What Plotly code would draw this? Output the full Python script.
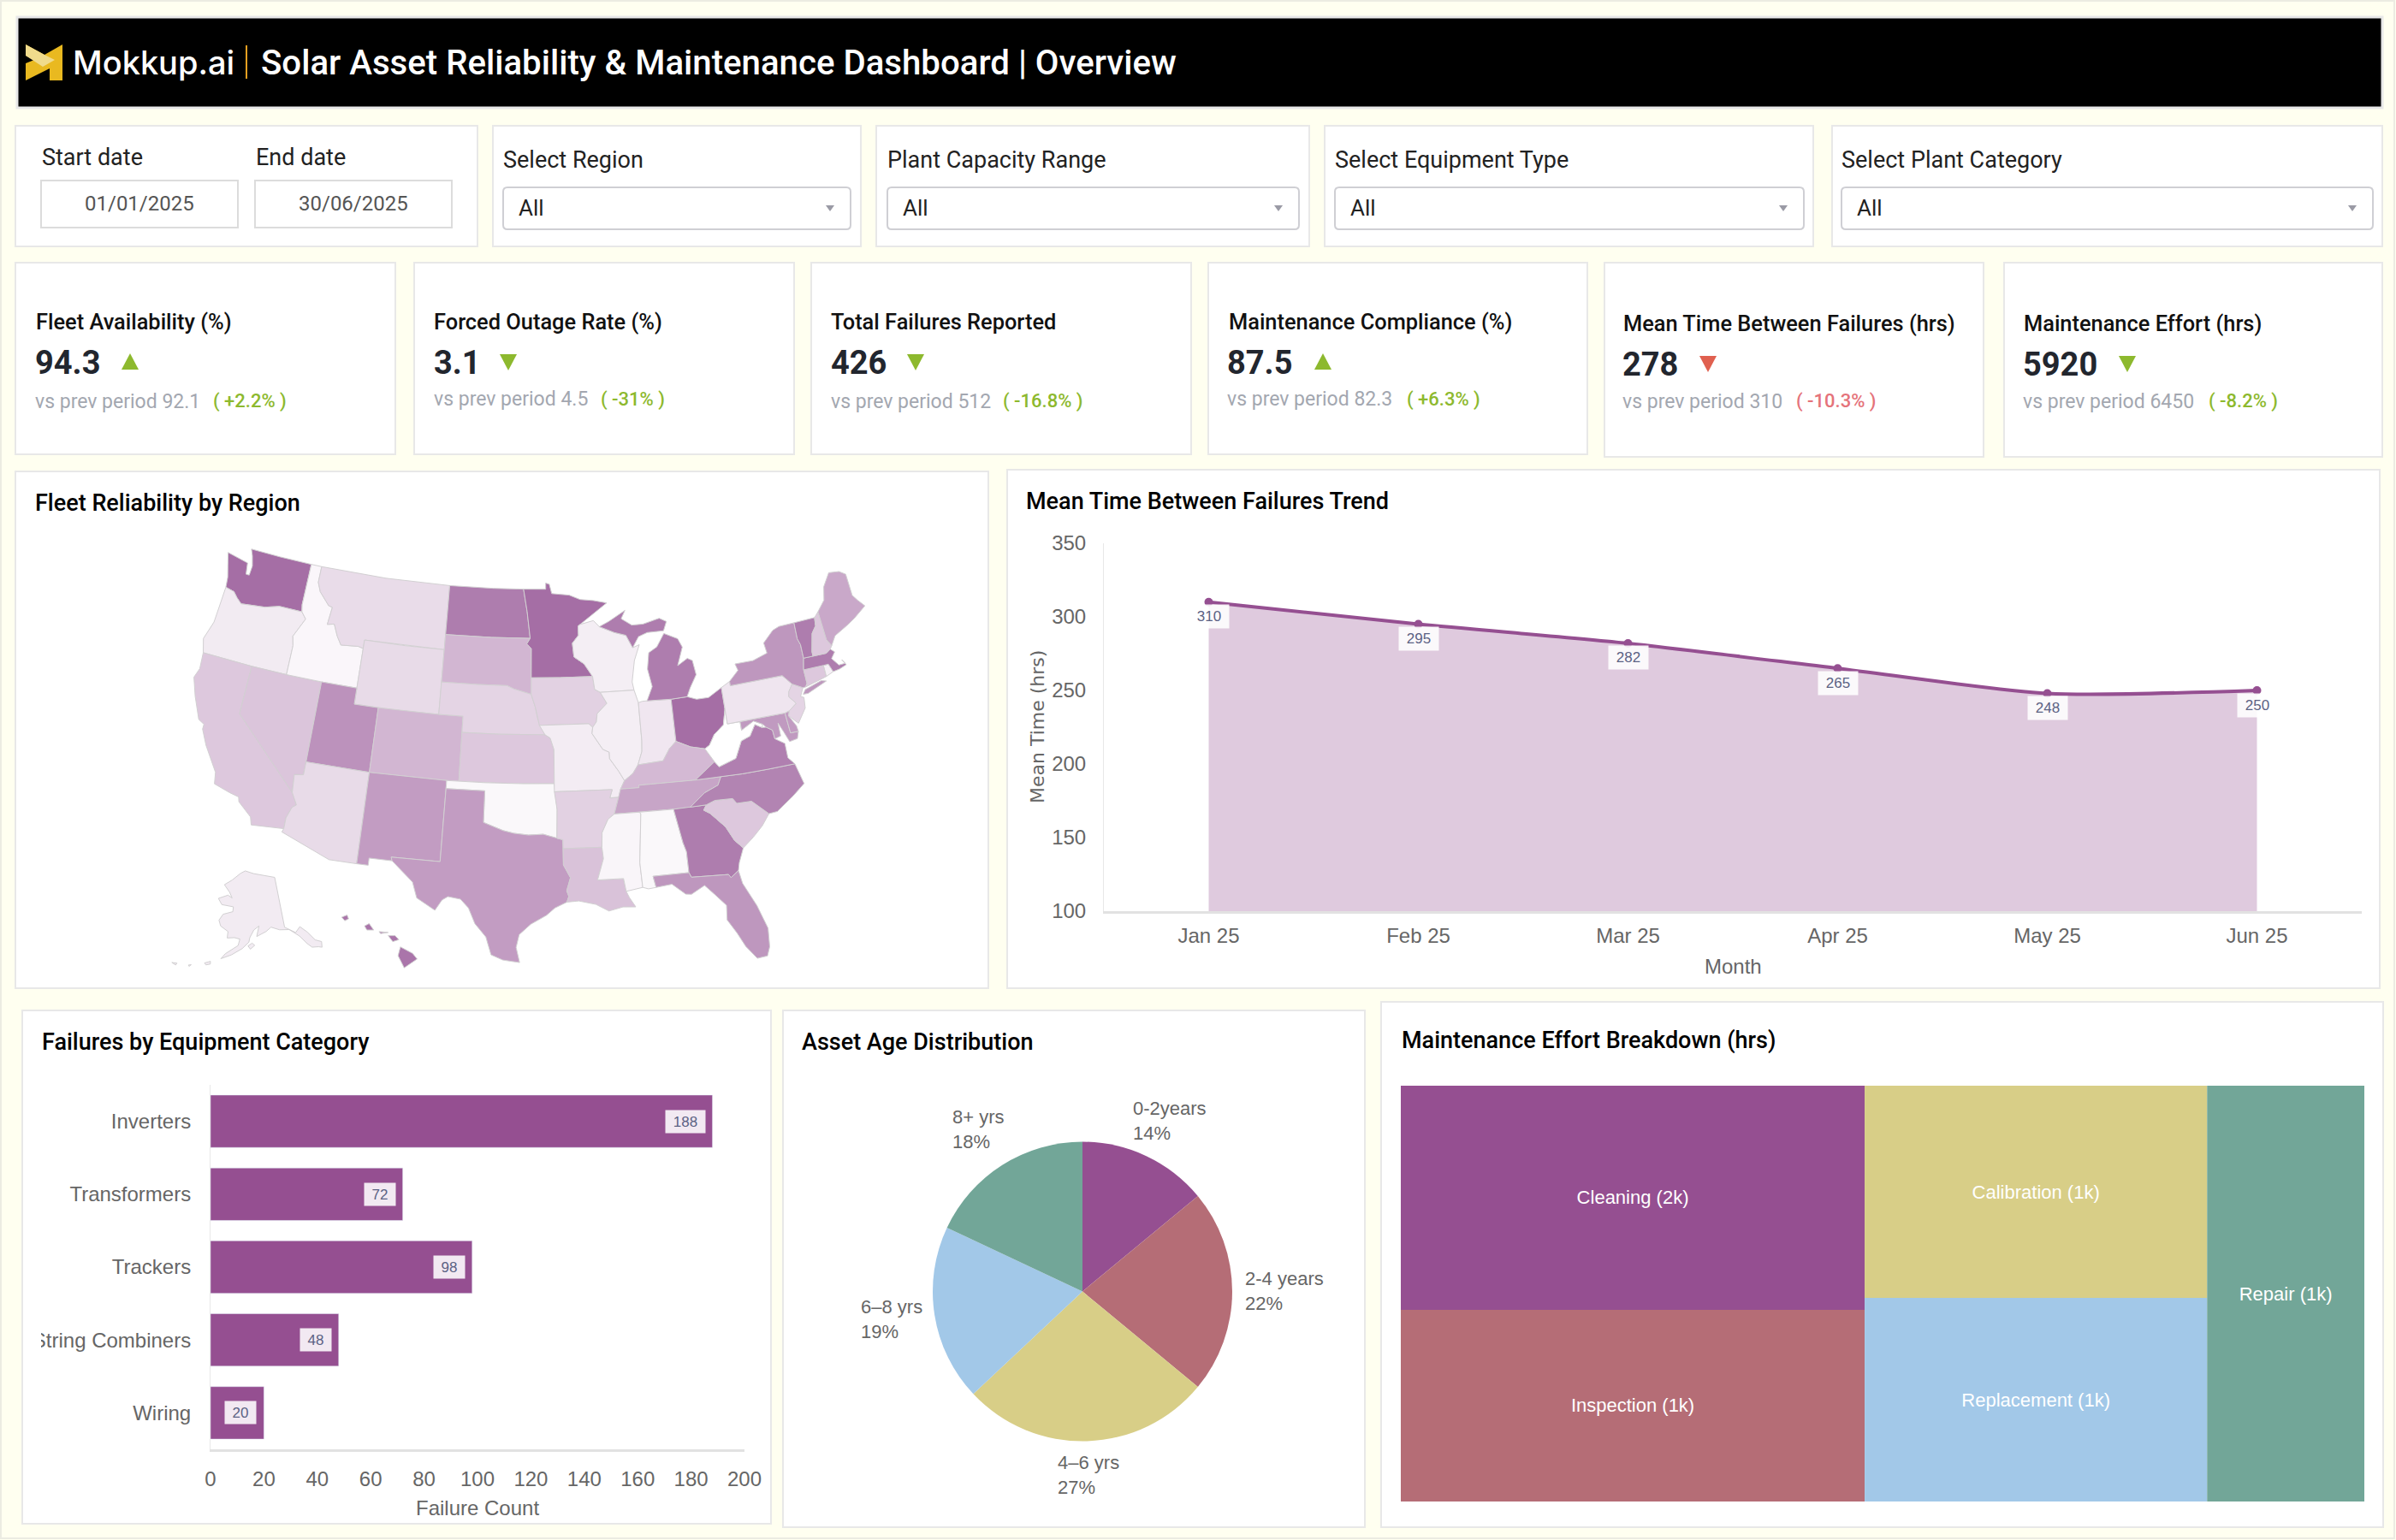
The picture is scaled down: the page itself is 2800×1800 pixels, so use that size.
import plotly.graph_objects as go
from plotly.colors import sample_colorscale
from math import radians, sin, cos, sqrt

W, H = 2800, 1800

# chart data
months = ["Jan 25", "Feb 25", "Mar 25", "Apr 25", "May 25", "Jun 25"]
mtbf_hours = [310, 295, 282, 265, 248, 250]

equipment = ["Inverters", "Transformers", "Trackers", "String Combiners", "Wiring"]
failure_counts = [188, 72, 98, 48, 20]

age_bands = ["0-2years", "2-4 years", "4–6 yrs", "6–8 yrs", "8+ yrs"]
age_shares = [14, 22, 27, 19, 18]

effort_types = ["Cleaning", "Inspection", "Calibration", "Replacement", "Repair"]
effort_hours = [1536, 1314, 1074, 1030, 966]

kpi_titles = [
    "Fleet Availability (%)",
    "Forced Outage Rate (%)",
    "Total Failures Reported",
    "Maintenance Compliance (%)",
    "Mean Time Between Failures (hrs)",
    "Maintenance Effort (hrs)",
]
kpi_values = ["94.3", "3.1", "426", "87.5", "278", "5920"]
kpi_prev = ["92.1", "4.5", "512", "82.3", "310", "6450"]
kpi_deltas = ["+2.2%", "-31%", "-16.8%", "+6.3%", "-10.3%", "-8.2%"]
kpi_up = [True, False, False, True, False, False]
kpi_good = [True, True, True, True, False, True]

filter_titles = ["Select Region", "Plant Capacity Range", "Select Equipment Type", "Select Plant Category"]
filter_values = ["All", "All", "All", "All"]
start_date = "01/01/2025"
end_date = "30/06/2025"

state_codes = [
    "WA", "OR", "CA", "NV", "ID", "MT", "WY", "UT", "CO", "AZ", "NM", "ND", "SD", "NE", "KS", "OK", "TX",
    "MN", "IA", "MO", "AR", "LA", "WI", "IL", "IN", "OH", "MI", "KY", "TN", "MS", "AL", "GA", "FL", "SC",
    "NC", "VA", "WV", "MD", "DE", "PA", "NJ", "NY", "CT", "RI", "MA", "VT", "NH", "ME", "AK", "HI",
]
state_reliability = [
    100, 14, 38, 40, 6, 24, 25, 75, 50, 25, 68, 90, 50, 30, 38, 5, 68,
    100, 32, 13, 32, 42, 12, 12, 17, 100, 90, 48, 62, 7, 5, 90, 72, 38,
    85, 88, 0, 70, 68, 18, 30, 72, 38, 10, 90, 90, 38, 60, 14, 95,
]

# state outlines, lon/lat rings
state_outlines = {
    "WA": [[(-124.73, 48.38), (-123.1, 48.15), (-122.75, 48.1), (-122.6, 47.4), (-122.3, 47.4), (-122.25, 48.0), (-122.5, 48.6), (-122.76, 49.0), (-120, 49), (-117.03, 49), (-117.04, 46.42), (-116.92, 45.99), (-118.98, 46.0), (-119.3, 45.93), (-120.2, 45.73), (-121.2, 45.65), (-122.3, 45.55), (-122.8, 45.85), (-123.2, 46.15), (-124.0, 46.27), (-124.1, 46.9), (-124.4, 47.6)]],
    "OR": [[(-124.0, 46.27), (-123.2, 46.15), (-122.8, 45.85), (-122.3, 45.55), (-121.2, 45.65), (-120.2, 45.73), (-119.3, 45.93), (-118.98, 46.0), (-116.92, 45.99), (-116.46, 45.6), (-116.9, 44.9), (-117.22, 44.4), (-117.03, 43.83), (-117.03, 42.0), (-120, 42), (-122, 42), (-124.21, 42), (-124.55, 42.84), (-124.1, 44)]],
    "CA": [[(-124.21, 42), (-122, 42), (-120, 42), (-120, 39), (-114.63, 35.0), (-114.14, 34.3), (-114.43, 34.1), (-114.72, 33.4), (-114.72, 32.72), (-117.12, 32.53), (-117.3, 33.0), (-118.4, 33.75), (-118.5, 34.03), (-119.2, 34.15), (-120.5, 34.45), (-120.65, 35.15), (-121.9, 36.6), (-122.5, 37.5), (-122.5, 37.8), (-123.0, 38.0), (-123.8, 39.3), (-124.35, 40.4), (-124.1, 41.0)]],
    "NV": [[(-120, 42), (-117.03, 42), (-114.04, 42), (-114.04, 37), (-114.05, 36.2), (-114.74, 36.1), (-114.63, 35.0), (-120, 39)]],
    "ID": [[(-117.03, 49), (-116.05, 49), (-116.05, 48), (-115.7, 47.45), (-114.7, 46.7), (-114.35, 46.65), (-114.5, 45.55), (-113.9, 45.65), (-113.45, 44.95), (-113.0, 44.45), (-111.5, 44.55), (-111.05, 44.47), (-111.05, 42), (-114.04, 42), (-117.03, 42), (-117.03, 43.83), (-117.22, 44.4), (-116.9, 44.9), (-116.46, 45.6), (-116.92, 45.99), (-117.04, 46.42)]],
    "MT": [[(-116.05, 49), (-110, 49), (-104.05, 49), (-104.05, 45), (-111.05, 45), (-111.05, 44.47), (-111.5, 44.55), (-113, 44.45), (-113.45, 44.95), (-113.9, 45.65), (-114.5, 45.55), (-114.35, 46.65), (-114.7, 46.7), (-115.7, 47.45), (-116.05, 48)]],
    "WY": [[(-111.05, 45), (-107.5, 45), (-104.05, 45), (-104.05, 41), (-107.5, 41), (-111.05, 41), (-111.05, 42), (-111.05, 44.47)]],
    "UT": [[(-114.04, 42), (-111.05, 42), (-111.05, 41), (-109.05, 41), (-109.05, 37), (-114.04, 37)]],
    "CO": [[(-109.05, 41), (-104.05, 41), (-102.05, 41), (-102.05, 37), (-103, 37), (-109.05, 37)]],
    "AZ": [[(-114.04, 37), (-109.05, 37), (-109.05, 31.33), (-111.07, 31.33), (-114.81, 32.5), (-114.72, 32.72), (-114.72, 33.4), (-114.43, 34.1), (-114.14, 34.3), (-114.63, 35.0), (-114.74, 36.1), (-114.05, 36.2)]],
    "NM": [[(-109.05, 37), (-103, 37), (-103.04, 32), (-106.62, 32), (-106.53, 31.78), (-108.21, 31.78), (-108.21, 31.33), (-109.05, 31.33)]],
    "ND": [[(-104.05, 49), (-100, 49), (-97.2, 49), (-96.85, 47.6), (-96.56, 45.94), (-100, 45.94), (-104.05, 45.94)]],
    "SD": [[(-104.05, 45.94), (-100, 45.94), (-96.56, 45.94), (-96.85, 45.6), (-96.45, 45.3), (-96.45, 43.5), (-96.45, 42.49), (-97.9, 42.8), (-98.5, 43.0), (-101, 43), (-104.05, 43)]],
    "NE": [[(-104.05, 43), (-101, 43), (-98.5, 43), (-97.9, 42.8), (-96.45, 42.49), (-96.1, 41.7), (-95.9, 41.0), (-95.31, 40), (-99, 40), (-102.05, 40), (-102.05, 41), (-104.05, 41)]],
    "KS": [[(-102.05, 40), (-99, 40), (-95.31, 40), (-94.9, 39.8), (-94.61, 39.1), (-94.62, 37), (-98, 37), (-102.05, 37)]],
    "OK": [[(-103, 37), (-100, 37), (-97, 37), (-94.62, 37), (-94.43, 35.4), (-94.48, 33.64), (-95.5, 33.9), (-96.6, 33.85), (-97.7, 33.95), (-98.5, 34.1), (-100, 34.56), (-100, 36.5), (-103, 36.5)]],
    "TX": [[(-106.62, 32), (-103.04, 32), (-103, 36.5), (-100, 36.5), (-100, 34.56), (-98.5, 34.1), (-97.7, 33.95), (-96.6, 33.85), (-95.5, 33.9), (-94.48, 33.64), (-94.04, 33.55), (-94.04, 33.0), (-94.04, 32), (-93.55, 31.2), (-93.84, 30.4), (-93.7, 30.05), (-93.85, 29.7), (-94.7, 29.35), (-95.3, 28.9), (-96.4, 28.35), (-97.2, 27.7), (-97.4, 26.9), (-97.15, 25.96), (-97.65, 26.02), (-98.3, 26.1), (-99.1, 26.4), (-99.5, 27.5), (-100.3, 28.3), (-100.8, 29.25), (-101.4, 29.77), (-102.3, 29.88), (-102.7, 29.65), (-103.15, 28.98), (-104.5, 29.65), (-104.9, 30.6), (-106.53, 31.78)]],
    "MN": [[(-97.2, 49), (-95.15, 49), (-95.15, 49.38), (-94.82, 49.32), (-94.6, 48.72), (-93.0, 48.6), (-92.0, 48.3), (-90.8, 48.2), (-89.6, 48.0), (-90.8, 47.4), (-92.1, 46.75), (-92.29, 46.65), (-92.29, 46.08), (-92.85, 45.6), (-92.75, 44.75), (-91.9, 44.3), (-91.22, 43.5), (-94, 43.5), (-96.45, 43.5), (-96.45, 45.3), (-96.85, 45.6), (-96.56, 45.94), (-96.85, 47.6)]],
    "IA": [[(-96.45, 43.5), (-94, 43.5), (-91.22, 43.5), (-91.1, 42.7), (-90.65, 42.5), (-90.15, 41.8), (-91.0, 41.2), (-91.1, 40.7), (-91.42, 40.38), (-91.73, 40.61), (-95.77, 40.58), (-95.9, 41.0), (-96.1, 41.7), (-96.45, 42.49)]],
    "MO": [[(-95.77, 40.58), (-91.73, 40.61), (-91.42, 40.38), (-91.5, 40.0), (-90.7, 39.0), (-90.2, 38.8), (-90.2, 38.4), (-89.55, 37.6), (-89.15, 37.0), (-89.5, 36.5), (-89.7, 36.0), (-90.37, 36.0), (-90.15, 36.5), (-94.62, 36.5), (-94.62, 37), (-94.61, 39.1), (-94.9, 39.8), (-95.31, 40)]],
    "AR": [[(-94.62, 36.5), (-90.15, 36.5), (-90.37, 36.0), (-89.7, 36.0), (-90.1, 35.0), (-90.6, 34.7), (-91.1, 33.9), (-91.17, 33.0), (-94.04, 33.0), (-94.04, 33.55), (-94.48, 33.64), (-94.43, 35.4)]],
    "LA": [[(-94.04, 33.0), (-91.17, 33.0), (-91.1, 32.3), (-91.6, 31.0), (-89.73, 31.0), (-89.6, 30.2), (-89.4, 29.8), (-89.0, 29.2), (-89.9, 29.25), (-90.9, 29.05), (-91.8, 29.5), (-93.0, 29.75), (-93.85, 29.7), (-93.7, 30.05), (-93.84, 30.4), (-93.55, 31.2), (-94.04, 32)]],
    "WI": [[(-92.29, 46.65), (-92.1, 46.75), (-90.9, 46.95), (-90.4, 46.55), (-89.1, 46.13), (-88.1, 45.9), (-87.6, 45.1), (-87.0, 45.25), (-87.55, 44.3), (-87.9, 43.0), (-87.8, 42.49), (-90.65, 42.5), (-91.1, 42.7), (-91.22, 43.5), (-91.9, 44.3), (-92.75, 44.75), (-92.85, 45.6), (-92.29, 46.08)]],
    "IL": [[(-90.65, 42.5), (-87.8, 42.49), (-87.53, 41.7), (-87.53, 39.35), (-87.6, 38.7), (-88.0, 37.9), (-88.45, 37.4), (-89.15, 37.0), (-89.55, 37.6), (-90.2, 38.4), (-90.2, 38.8), (-90.7, 39.0), (-91.5, 40.0), (-91.42, 40.38), (-91.1, 40.7), (-91.0, 41.2), (-90.15, 41.8)]],
    "IN": [[(-87.53, 41.7), (-87.2, 41.76), (-86.8, 41.76), (-84.8, 41.7), (-84.81, 39.1), (-85.4, 38.7), (-86.0, 38.0), (-86.8, 37.95), (-88.0, 37.9), (-87.6, 38.7), (-87.53, 39.35)]],
    "OH": [[(-84.8, 41.7), (-83.45, 41.73), (-82.7, 41.5), (-81.7, 41.5), (-80.52, 41.98), (-80.52, 40.64), (-80.85, 39.7), (-81.7, 39.2), (-82.2, 38.6), (-82.6, 38.42), (-83.7, 38.65), (-84.81, 39.1)]],
    "MI": [
        [(-86.8, 41.76), (-84.8, 41.7), (-83.45, 41.73), (-83.1, 42.25), (-82.45, 43.0), (-82.6, 43.9), (-83.0, 44.07), (-83.9, 43.7), (-83.3, 44.8), (-83.6, 45.35), (-84.75, 45.78), (-85.5, 45.0), (-86.25, 44.7), (-86.5, 43.7), (-86.25, 42.6)],
        [(-90.4, 46.55), (-89.1, 46.13), (-88.1, 45.9), (-87.6, 45.1), (-87.0, 45.75), (-86.2, 45.95), (-84.75, 45.95), (-84.4, 46.5), (-85.0, 46.75), (-86.5, 46.5), (-87.5, 46.5), (-88.4, 46.95), (-88.0, 47.45), (-89.5, 46.85)],
    ],
    "KY": [[(-89.15, 37.0), (-88.45, 37.4), (-88.0, 37.9), (-86.8, 37.95), (-86.0, 38.0), (-85.4, 38.7), (-84.81, 39.1), (-83.7, 38.65), (-82.6, 38.42), (-82.0, 37.55), (-83.67, 36.6), (-88.07, 36.65), (-88.07, 36.5), (-89.5, 36.5)]],
    "TN": [[(-89.5, 36.5), (-88.07, 36.5), (-88.07, 36.65), (-83.67, 36.6), (-81.68, 36.59), (-82.0, 36.1), (-83.1, 35.75), (-84.32, 34.99), (-85.6, 34.98), (-88.2, 35.0), (-90.1, 35.0), (-89.7, 36.0)]],
    "MS": [[(-90.1, 35.0), (-88.2, 35.0), (-88.1, 34.9), (-88.47, 31.9), (-88.4, 30.37), (-89.6, 30.2), (-89.73, 31.0), (-91.6, 31.0), (-91.1, 32.3), (-91.17, 33.0), (-91.1, 33.9), (-90.6, 34.7)]],
    "AL": [[(-88.2, 35.0), (-85.6, 34.98), (-85.18, 32.87), (-85.0, 32.3), (-85.0, 31.0), (-87.6, 31.0), (-87.45, 30.3), (-88.0, 30.25), (-88.4, 30.37), (-88.47, 31.9), (-88.1, 34.9)]],
    "GA": [[(-85.6, 34.98), (-84.32, 34.99), (-83.1, 35.0), (-83.35, 34.7), (-82.9, 34.45), (-81.9, 33.5), (-81.4, 32.6), (-80.85, 32.05), (-81.3, 31.2), (-81.45, 30.72), (-82.05, 30.36), (-82.2, 30.57), (-84.86, 30.7), (-85.0, 31.0), (-85.0, 32.3), (-85.18, 32.87)]],
    "FL": [[(-87.6, 31.0), (-85.0, 31.0), (-84.86, 30.7), (-82.2, 30.57), (-82.05, 30.36), (-81.45, 30.72), (-81.3, 29.9), (-80.55, 28.4), (-80.05, 26.9), (-80.15, 25.75), (-80.4, 25.2), (-81.1, 25.15), (-81.75, 26.0), (-82.2, 26.9), (-82.75, 27.8), (-82.65, 28.7), (-83.4, 29.5), (-84.0, 30.1), (-85.0, 29.65), (-85.4, 29.7), (-86.3, 30.4), (-87.45, 30.3)]],
    "SC": [[(-83.35, 34.7), (-83.1, 35.0), (-82.4, 35.2), (-81.05, 35.15), (-80.8, 34.82), (-79.67, 34.8), (-78.55, 33.86), (-79.2, 33.2), (-80.0, 32.6), (-80.85, 32.05), (-81.4, 32.6), (-81.9, 33.5), (-82.9, 34.45)]],
    "NC": [[(-81.68, 36.59), (-80, 36.55), (-78, 36.55), (-75.87, 36.55), (-75.5, 35.25), (-76.5, 34.65), (-77.9, 33.9), (-78.55, 33.86), (-79.67, 34.8), (-80.8, 34.82), (-81.05, 35.15), (-82.4, 35.2), (-83.1, 35.0), (-84.32, 34.99), (-83.1, 35.75), (-82.0, 36.1)]],
    "VA": [[(-83.67, 36.6), (-81.68, 36.59), (-80, 36.55), (-78, 36.55), (-75.87, 36.55), (-76.3, 37.0), (-76.3, 37.9), (-77.0, 38.3), (-77.05, 38.85), (-77.5, 39.1), (-77.83, 39.13), (-78.35, 39.4), (-78.9, 38.75), (-79.65, 38.55), (-80.3, 37.55), (-81.7, 37.2), (-82.0, 37.55)]],
    "WV": [[(-82.6, 38.42), (-82.2, 38.6), (-81.7, 39.2), (-80.85, 39.7), (-80.52, 40.64), (-80.52, 39.72), (-79.48, 39.72), (-79.48, 39.2), (-78.4, 39.62), (-77.72, 39.32), (-77.83, 39.13), (-78.35, 39.4), (-78.9, 38.75), (-79.65, 38.55), (-80.3, 37.55), (-81.7, 37.2), (-82.0, 37.55)]],
    "MD": [[(-79.48, 39.72), (-75.79, 39.72), (-75.69, 38.46), (-75.05, 38.45), (-75.25, 38.03), (-75.9, 37.95), (-76.2, 38.6), (-76.5, 39.2), (-76.5, 38.4), (-77.0, 38.3), (-77.05, 38.85), (-77.5, 39.1), (-77.72, 39.32), (-78.4, 39.62), (-79.48, 39.2)]],
    "DE": [[(-75.79, 39.72), (-75.4, 39.8), (-75.55, 39.5), (-75.1, 38.8), (-75.05, 38.45), (-75.69, 38.46)]],
    "PA": [[(-80.52, 41.98), (-79.76, 42.27), (-79.76, 42), (-75.35, 42), (-74.7, 41.36), (-75.1, 40.95), (-75.2, 40.65), (-74.72, 40.15), (-75.4, 39.8), (-75.79, 39.72), (-80.52, 39.72), (-80.52, 40.64)]],
    "NJ": [[(-74.7, 41.36), (-73.9, 41.0), (-74.25, 40.5), (-74.0, 40.4), (-74.1, 39.75), (-74.9, 38.93), (-75.55, 39.5), (-75.4, 39.8), (-74.72, 40.15), (-75.2, 40.65), (-75.1, 40.95)]],
    "NY": [
        [(-79.76, 42), (-79.76, 42.27), (-78.9, 42.85), (-79.05, 43.27), (-77.5, 43.27), (-76.2, 43.55), (-76.3, 44.2), (-75.3, 44.85), (-74.7, 45.0), (-73.35, 45.01), (-73.4, 44.0), (-73.25, 43.6), (-73.27, 42.75), (-73.5, 42.05), (-73.49, 41.2), (-73.66, 41.0), (-73.9, 41.0), (-74.7, 41.36), (-75.35, 42)],
        [(-74.0, 40.6), (-73.75, 40.85), (-72.3, 41.15), (-71.9, 41.05), (-73.6, 40.58)],
    ],
    "CT": [[(-73.49, 42.05), (-71.8, 42.02), (-71.8, 41.32), (-73.66, 41.0), (-73.49, 41.2)]],
    "RI": [[(-71.8, 42.02), (-71.38, 42.02), (-71.15, 41.5), (-71.8, 41.32)]],
    "MA": [[(-73.5, 42.05), (-73.27, 42.75), (-71.3, 42.7), (-70.9, 42.88), (-70.6, 42.65), (-71.0, 42.3), (-70.55, 41.8), (-70.0, 41.8), (-70.2, 42.07), (-69.95, 41.7), (-70.6, 41.55), (-71.15, 41.5), (-71.38, 42.02), (-71.8, 42.02)]],
    "VT": [[(-73.35, 45.01), (-71.5, 45.01), (-71.6, 44.5), (-72.05, 44.1), (-72.45, 43.0), (-72.46, 42.73), (-73.27, 42.75), (-73.25, 43.6), (-73.4, 44.0)]],
    "NH": [[(-71.5, 45.01), (-71.08, 45.3), (-71.0, 43.5), (-70.7, 43.07), (-70.9, 42.88), (-71.3, 42.7), (-72.46, 42.73), (-72.45, 43.0), (-72.05, 44.1), (-71.6, 44.5)]],
    "ME": [[(-71.08, 45.3), (-70.3, 45.9), (-70.0, 46.7), (-69.22, 47.46), (-68.3, 47.35), (-67.79, 47.07), (-67.79, 45.7), (-67.45, 45.3), (-67.0, 44.85), (-68.2, 44.3), (-69.0, 44.0), (-70.2, 43.6), (-70.7, 43.07), (-71.0, 43.5)]],
    "AK": [
        [(-141, 69.65), (-141, 60.3), (-137.5, 58.9), (-135.5, 59.75), (-133.5, 58.4), (-131.8, 56.6), (-130, 55.9), (-130.5, 54.9), (-131.5, 55.2), (-133.5, 55.5), (-134.7, 56.4), (-136.5, 58.1), (-139.5, 59.7), (-143, 60), (-146, 60.7), (-148, 60), (-151.5, 59.2), (-150.5, 61.1), (-152.5, 60.4), (-154, 59), (-154.3, 58.2), (-156.5, 57), (-160, 55.7), (-163.2, 54.8), (-162, 55.8), (-158, 57.5), (-157.5, 58.7), (-159.5, 58.9), (-162, 58.7), (-162, 59.9), (-165, 60.7), (-166, 61.7), (-164.8, 62.9), (-161, 63.6), (-161, 64.5), (-166, 64.6), (-168, 65.6), (-164, 66.5), (-162, 66.1), (-163.5, 67.1), (-166.5, 68.3), (-163, 69.4), (-159, 70.8), (-156.5, 71.3), (-152, 70.8), (-146, 70.2)],
        [(-154.6, 57.5), (-153.2, 58.0), (-152.3, 57.6), (-153.8, 56.9)],
        [(-168, 53.5), (-166.3, 54.0), (-166.2, 53.5), (-167.5, 53.2)],
        [(-172.6, 52.4), (-171.8, 52.6), (-172.3, 52.2)],
        [(-177.5, 51.9), (-176, 52.1), (-176.2, 51.7)],
    ],
    "HI": [
        [(-155.9, 20.25), (-155.1, 19.85), (-154.8, 19.5), (-155.65, 18.95), (-156.05, 19.7)],
        [(-156.7, 20.95), (-156.25, 20.95), (-156.0, 20.7), (-156.4, 20.58)],
        [(-157.3, 21.2), (-156.7, 21.15), (-157.2, 21.08)],
        [(-158.25, 21.55), (-157.95, 21.7), (-157.65, 21.3), (-158.1, 21.3)],
        [(-159.75, 22.1), (-159.4, 22.23), (-159.3, 22.0), (-159.55, 21.88)],
    ],
}

# palette
PURPLE = "#954F91"
ROSE = "#B56D76"
SAND = "#D8CE87"
SKY = "#A2C8E8"
TEAL = "#72A698"
slice_colors = [PURPLE, ROSE, SAND, SKY, TEAL]
effort_colors = [PURPLE, ROSE, SAND, SKY, TEAL]
PAGE = "#FFFFF0"
EDGE = "#E8E8E8"
GREEN = "#8DB92E"
RED = "#E0604F"
map_scale = [[0, "#FFFFFF"], [1, "#A56EA5"]]

SANS = "Liberation Sans"
UI = "Roboto"


def px(x):
    return x / W


def py(y):
    return 1 - y / H


shapes = []
notes = []


def box(x0, y0, x1, y1, fill="white", line=EDGE, width=2, layer="below"):
    shapes.append(dict(type="rect", xref="paper", yref="paper", x0=px(x0), y0=py(y0), x1=px(x1), y1=py(y1),
                       fillcolor=fill, line=dict(color=line, width=width), layer=layer))


def polygon(points, fill, layer="above"):
    path = "M" + " L".join(f"{px(x)},{py(y)}" for x, y in points) + " Z"
    shapes.append(dict(type="path", xref="paper", yref="paper", path=path, fillcolor=fill,
                       line=dict(width=0), layer=layer))


def rounded(x0, y0, x1, y1, r=5):
    path = (f"M{px(x0 + r)},{py(y0)} L{px(x1 - r)},{py(y0)} Q{px(x1)},{py(y0)} {px(x1)},{py(y0 + r)} "
            f"L{px(x1)},{py(y1 - r)} Q{px(x1)},{py(y1)} {px(x1 - r)},{py(y1)} "
            f"L{px(x0 + r)},{py(y1)} Q{px(x0)},{py(y1)} {px(x0)},{py(y1 - r)} "
            f"L{px(x0)},{py(y0 + r)} Q{px(x0)},{py(y0)} {px(x0 + r)},{py(y0)} Z")
    shapes.append(dict(type="path", xref="paper", yref="paper", path=path, fillcolor="white",
                       line=dict(color="#CFCFD4", width=2), layer="below"))


def label(x, y, text, size, color="#111111", family=UI, weight=400, anchor="left", **kw):
    notes.append(dict(xref="paper", yref="paper", x=px(x), y=py(y), text=text, showarrow=False,
                      xanchor=anchor, yanchor="middle", borderpad=0, align=anchor,
                      font=dict(size=size, color=color, family=family, weight=weight), **kw))


def triangle(x, y, up, color):
    if up:
        polygon([(x, y - 10), (x + 10, y + 9), (x - 10, y + 9)], color)
    else:
        polygon([(x - 10, y - 9), (x + 10, y - 9), (x, y + 10)], color)


def conic(lon, lat, lon0, p1, p2):
    s1, s2 = sin(radians(p1)), sin(radians(p2))
    n = (s1 + s2) / 2
    c = cos(radians(p1)) ** 2 + 2 * n * s1
    rho = sqrt(c - 2 * n * sin(radians(lat))) / n
    theta = radians(n * (lon - lon0))
    return rho * sin(theta), -rho * cos(theta)


def project(code, lon, lat):
    # Albers USA style: lower 48 plus moved insets for AK and HI
    if code == "AK":
        x, y = conic(lon, lat, -154, 55, 65)
        return -0.308 + 0.336 * x, -0.103 + 0.337 * (0.381 + y)
    if code == "HI":
        return (475 + (lon + 155.5) * 17.8 - 627) / 1088, (906.6 - 1119 + (lat - 19.6) * 18.8) / 1082
    x, y = conic(lon, lat, -96, 29.5, 45.5)
    return x, y + 1.3033


fig = go.Figure()

# page furniture
box(1, 1, 2798, 1798, fill=PAGE, line="#ECECE2", width=2)
box(20, 20, 2784, 126, fill="black", line="#E8E8E8", width=3)
cards = [
    (18, 147, 558, 288), (576, 147, 1006, 288), (1024, 147, 1530, 288), (1548, 147, 2119, 288), (2141, 147, 2784, 288),
    (18, 307, 462, 531), (484, 307, 928, 531), (948, 307, 1392, 531), (1412, 307, 1855, 531), (1875, 307, 2318, 534), (2342, 307, 2784, 534),
    (18, 551, 1155, 1155), (1177, 549, 2781, 1155),
    (26, 1181, 901, 1781), (915, 1181, 1595, 1785), (1614, 1171, 2785, 1785),
]
for c in cards:
    box(*c)

# header
polygon([(30, 52), (52, 64), (73, 52), (73, 94), (58, 94), (58, 80), (30, 94), (30, 74), (40, 70), (30, 65)], "#E9B920")
polygon([(30, 52), (52, 64), (64, 70), (50, 78), (30, 65)], "#F0DB8C")
label(84, 73, "Mokkup.ai", 38, "white", family="Inter", weight=500)
shapes.append(dict(type="line", xref="paper", yref="paper", x0=px(288), x1=px(288), y0=py(53), y1=py(92),
                   line=dict(color="#E9A020", width=2)))
label(304, 73, "Solar Asset Reliability & Maintenance Dashboard | Overview", 40.2, "white", weight=500)

# filters
label(48, 184, "Start date", 27, "#222222")
label(298, 184, "End date", 27, "#222222")
box(48, 211, 278, 266, line="#DCDCDC")
box(298, 211, 528, 266, line="#DCDCDC")
label(163, 238, start_date, 24, "#555555", anchor="center")
label(413, 238, end_date, 24, "#555555", anchor="center")

filter_boxes = [(588, 994), (1037, 1518), (1560, 2108), (2152, 2773)]
for title, value, (x0, x1) in zip(filter_titles, filter_values, filter_boxes):
    label(x0 - 1, 187, title, 27, "#222222")
    rounded(x0, 219, x1, 268)
    label(x0 + 17, 243, value, 26, "#222222")
    polygon([(x1 - 29, 240), (x1 - 19, 240), (x1 - 24, 247)], "#9A9AA5")

# KPI cards
kpi_title_x = [41, 506, 970, 1435, 1896, 2364]
kpi_title_y = [376, 376, 376, 376, 378, 378]
kpi_value_x = [40, 506, 970, 1433, 1895, 2363]
kpi_value_y = [424, 424, 424, 424, 426, 426]
kpi_arrow_x = [152, 594, 1070, 1546, 1996, 2486]
kpi_sub_y = [469, 467, 469, 467, 469, 469]
kpi_delta_x = [248, 701, 1171, 1643, 2098, 2580]
for i, title in enumerate(kpi_titles):
    label(kpi_title_x[i], kpi_title_y[i], title, 25.4, "#111111", weight=500)
    label(kpi_value_x[i], kpi_value_y[i], kpi_values[i], 38, "#22262E", weight=700)
    arrow_color = GREEN if kpi_good[i] else RED
    triangle(kpi_arrow_x[i], kpi_value_y[i] - 1, kpi_up[i], arrow_color)
    label(kpi_value_x[i], kpi_sub_y[i], f"vs prev period {kpi_prev[i]}", 23, "#A3A7B0")
    delta_color = GREEN if kpi_good[i] else "#E5737A"
    label(kpi_delta_x[i], kpi_sub_y[i], f"( {kpi_deltas[i]} )", 22, delta_color, weight=500)

# panel titles
label(40, 588, "Fleet Reliability by Region", 27, "#000000", weight=500)
label(1198, 586, "Mean Time Between Failures Trend", 27, "#000000", weight=500)
label(48, 1218, "Failures by Equipment Category", 27, "#000000", weight=500)
label(936, 1218, "Asset Age Distribution", 27, "#000000", weight=500)
label(1637, 1216, "Maintenance Effort Breakdown (hrs)", 27, "#000000", weight=500)

# map
state_colors = sample_colorscale(map_scale, [v / 100 for v in state_reliability])
for code, value, color in zip(state_codes, state_reliability, state_colors):
    xs, ys = [], []
    for ring in state_outlines[code]:
        for lon, lat in ring + ring[:1]:
            x, y = project(code, lon, lat)
            xs.append(x)
            ys.append(y)
        xs.append(None)
        ys.append(None)
    fig.add_trace(go.Scatter(x=xs, y=ys, mode="lines", fill="toself", fillcolor=color,
                             line=dict(color="#D2D0D2", width=1), name=code, showlegend=False,
                             hoverinfo="text", text=f"{code}: {value}", xaxis="x", yaxis="y"))

# MTBF trend
fig.add_trace(go.Scatter(x=months, y=mtbf_hours, mode="lines+markers", fill="tozeroy",
                         fillcolor="rgba(149,79,145,0.3)", line=dict(color=PURPLE, width=4, shape="spline", smoothing=0.7),
                         marker=dict(size=10, color=PURPLE), showlegend=False, xaxis="x2", yaxis="y2"))
for month, hours in zip(months, mtbf_hours):
    notes.append(dict(xref="x2", yref="y2", x=month, y=hours, text=str(hours), showarrow=False, yshift=-17,
                      width=46, height=27, bgcolor="rgba(255,255,255,0.88)", borderpad=0,
                      font=dict(size=17, color="#5B6284", family=SANS)))
label(1212, 850, "Mean Time (hrs)", 22, "#666666", family="DejaVu Sans", anchor="center", textangle=-90)
label(2025, 1129, "Month", 24, "#666666", family=SANS, anchor="center")

# failures by equipment
fig.add_trace(go.Bar(x=failure_counts, y=equipment, orientation="h", marker=dict(color=PURPLE),
                     showlegend=False, xaxis="x3", yaxis="y3"))
for name, count in zip(equipment, failure_counts):
    notes.append(dict(xref="x3", yref="y3", x=count, y=name, text=str(count), showarrow=False, xanchor="right",
                      xshift=-8, width=16 + 10 * len(str(count)), height=26, bgcolor="rgba(255,255,255,0.88)", borderpad=0,
                      font=dict(size=17, color="#5B6284", family=SANS)))
label(558, 1762, "Failure Count", 24, "#666666", family=SANS, anchor="center")
# the long category label runs off the left of the panel in the original
box(27, 1525, 48, 1590, line="white", width=0, layer="above")

# age pie
fig.add_trace(go.Pie(labels=age_bands, values=age_shares, sort=False, direction="clockwise", rotation=0,
                     marker=dict(colors=slice_colors), textinfo="none", showlegend=False,
                     domain=dict(x=[px(1090), px(1440)], y=[py(1684.5), py(1334.5)])))
pie_label_x = [1323, 1454, 1235, 1005, 1112]
pie_label_y = [1310, 1509, 1724, 1542, 1320]
for band, share, x, y in zip(age_bands, age_shares, pie_label_x, pie_label_y):
    label(x, y, f"{band}<br>{share}%", 22, "#666666", family=SANS)

# effort treemap
fig.add_trace(go.Treemap(labels=effort_types, parents=[""] * 5, values=effort_hours,
                         marker=dict(colors=effort_colors, line=dict(width=0), pad=dict(t=0, l=0, r=0, b=0)),
                         tiling=dict(squarifyratio=1.3, pad=0), pathbar=dict(visible=False),
                         texttemplate="%{label} (%{value:.1s})", textposition="middle center",
                         textfont=dict(size=22, color="white", family=SANS),
                         domain=dict(x=[px(1637), px(2763)], y=[py(1755), py(1269)])))

# map axes are set so one projection unit comes to about 1085 px
map_x = [(30 - 627) / 1088, (1150 - 627) / 1088]
map_y = [(906.6 - 1150) / 1082, (906.6 - 600) / 1082]
hidden = dict(visible=False, fixedrange=True, automargin=False)
tick_font = dict(size=24, color="#666666", family=SANS)

fig.update_layout(
    width=W,
    height=H,
    margin=dict(l=0, r=0, t=0, b=0, pad=0),
    paper_bgcolor=PAGE,
    plot_bgcolor="rgba(0,0,0,0)",
    showlegend=False,
    shapes=shapes,
    annotations=notes,
    xaxis=dict(domain=[px(30), px(1150)], range=map_x, anchor="y", **hidden),
    yaxis=dict(domain=[py(1150), py(600)], range=map_y, anchor="x", **hidden),
    xaxis2=dict(domain=[px(1290), px(2760)], range=[-0.5, 5.5], anchor="y2", type="category", automargin=False,
                categoryarray=months, showgrid=False, showline=True, linecolor="#E2E2E2", linewidth=3,
                ticks="", tickfont=tick_font, ticklabelstandoff=5),
    yaxis2=dict(domain=[py(1065), py(635)], range=[100, 350], anchor="x2", dtick=50, showgrid=False, automargin=False,
                showline=True, linecolor="#E8E8E8", linewidth=1, ticks="", tickfont=tick_font,
                ticklabelstandoff=15, zeroline=False),
    xaxis3=dict(domain=[px(246), px(870)], range=[0, 200], anchor="y3", dtick=20, showgrid=False, zeroline=False, automargin=False,
                showline=True, linecolor="#E2E2E2", linewidth=3, ticks="", tickfont=tick_font, ticklabelstandoff=11),
    yaxis3=dict(domain=[py(1694), py(1268)], anchor="x3", type="category", categoryarray=equipment, automargin=False,
                range=[4.5, -0.5], showgrid=False, showline=True, linecolor="#E8E8E8", linewidth=1, ticks="",
                tickfont=tick_font, ticklabelstandoff=17),
    bargap=0.28,
)

# browser default body margin would shift the whole page by 8 px
fig.write_html("out.html", config={"displayModeBar": False},
               post_script="document.body.style.margin='0';document.body.style.overflow='hidden';")
